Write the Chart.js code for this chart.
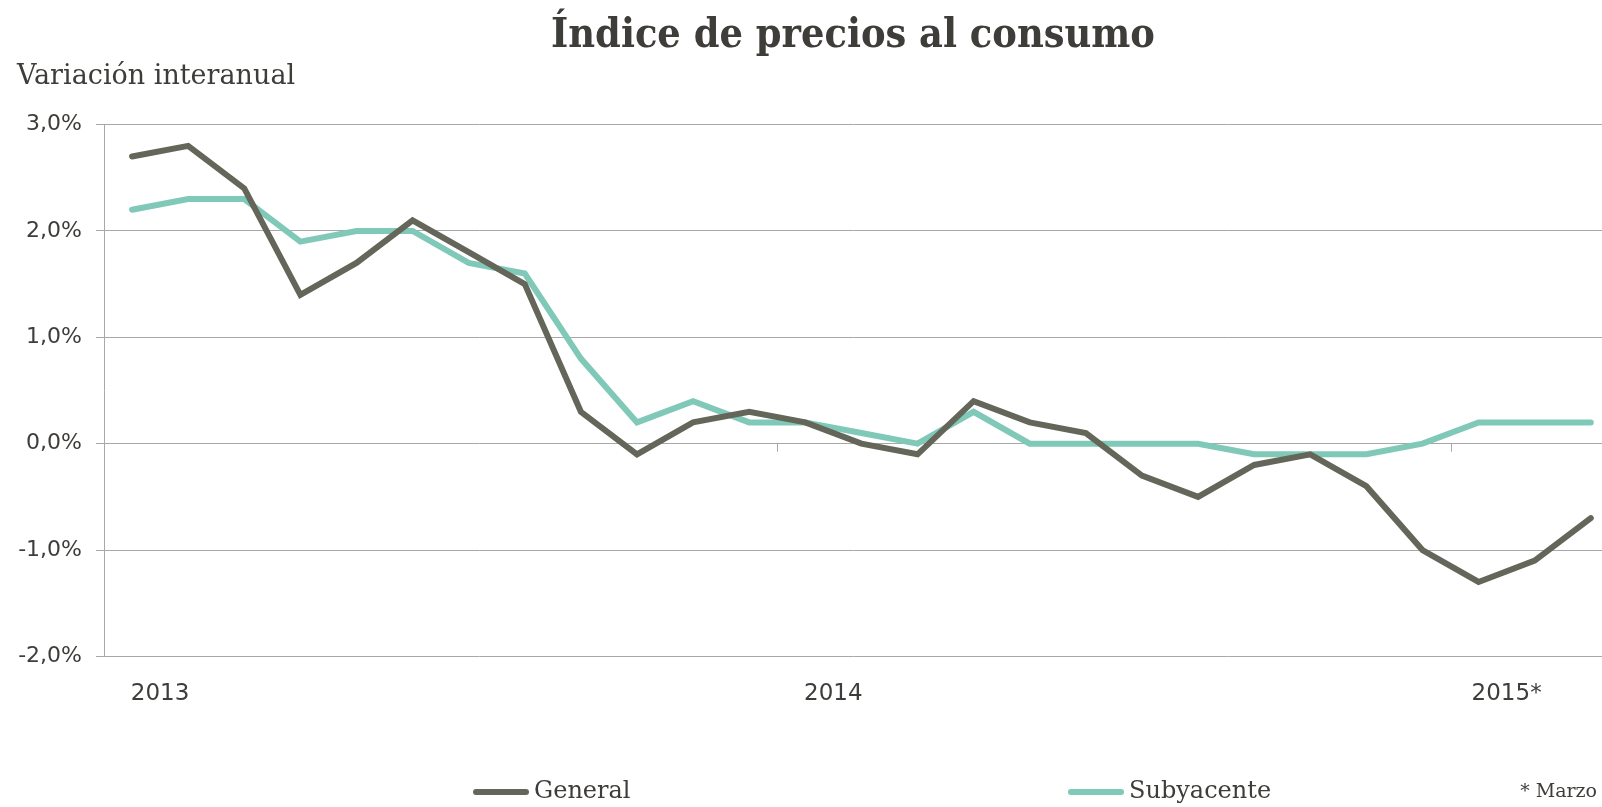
<!DOCTYPE html>
<html lang="es">
<head>
    <meta charset="UTF-8">
    <title>Índice de precios al consumo</title>
    <style>
        body {
            margin: 0;
            padding: 0;
            background-color: #fff;
        }
    </style>
</head>
<body>
    <canvas id="ipcChart" width="1602" height="807"></canvas>
    <script src="https://cdn.jsdelivr.net/npm/chart.js"></script>
    <script>
        // monthly year-on-year change, in %
        const general =    [2.7, 2.8, 2.4, 1.4, 1.7, 2.1, 1.8, 1.5, 0.3, -0.1, 0.2, 0.3, 0.2, 0.0,
                            -0.1, 0.4, 0.2, 0.1, -0.3, -0.5, -0.2, -0.1, -0.4, -1.0, -1.3, -1.1, -0.7];
        const subyacente = [2.2, 2.3, 2.3, 1.9, 2.0, 2.0, 1.7, 1.6, 0.8, 0.2, 0.4, 0.2, 0.2, 0.1,
                            0.0, 0.3, 0.0, 0.0, 0.0, 0.0, -0.1, -0.1, -0.1, 0.0, 0.2, 0.2, 0.2];
        const yearLabels = ['2013', '2014', '2015*'];
        const monthsPerYear = 12;

        const toPoints = arr => arr.map((v, i) => ({ x: i, y: v }));
        const textColor = '#3f3d3a';
        const gridColor = '#a8a8a8';
        const serif = '"DejaVu Serif"';

        const yearTicks = yearLabels.map((_, i) => i * monthsPerYear + 0.5);
        const yearBreaks = yearLabels.slice(1).map((_, i) => (i + 1) * monthsPerYear - 0.5);

        // tick marks on the zero line, legend spread out, footnote
        const extras = {
            id: 'extras',
            afterDatasetsDraw(chart) {
                const { ctx, scales: { x, y } } = chart;
                const y0 = y.getPixelForValue(0);
                ctx.save();
                ctx.strokeStyle = gridColor;
                ctx.lineWidth = 1;
                yearBreaks.forEach(v => {
                    const px = Math.round(x.getPixelForValue(v)) + 0.5;
                    ctx.beginPath();
                    ctx.moveTo(px, y0);
                    ctx.lineTo(px, y0 + 8);
                    ctx.stroke();
                });
                ctx.restore();
            },
            afterDraw(chart) {
                const ctx = chart.ctx;
                const legendY = 792;
                const legendX = [476, 1071];
                ctx.save();
                ctx.textBaseline = 'middle';
                ctx.fillStyle = textColor;
                ctx.font = '24px ' + serif;
                chart.data.datasets.forEach((ds, i) => {
                    ctx.strokeStyle = ds.borderColor;
                    ctx.lineWidth = ds.borderWidth;
                    ctx.lineCap = 'round';
                    ctx.beginPath();
                    ctx.moveTo(legendX[i], legendY);
                    ctx.lineTo(legendX[i] + 50, legendY);
                    ctx.stroke();
                    ctx.fillText(ds.label, legendX[i] + 58, legendY);
                });
                ctx.font = '19px ' + serif;
                ctx.textAlign = 'right';
                ctx.fillText('* Marzo', chart.width - 5, legendY);
                ctx.restore();
            }
        };

        const ctx = document.getElementById('ipcChart').getContext('2d');
        new Chart(ctx, {
            type: 'line',
            data: {
                datasets: [{
                    label: 'General',
                    data: toPoints(general),
                    borderColor: '#65665a',
                    backgroundColor: '#65665a',
                    borderWidth: 6,
                    borderCapStyle: 'round',
                    pointRadius: 0,
                    tension: 0
                }, {
                    label: 'Subyacente',
                    data: toPoints(subyacente),
                    borderColor: '#80c9b9',
                    backgroundColor: '#80c9b9',
                    borderWidth: 6,
                    borderCapStyle: 'round',
                    pointRadius: 0,
                    tension: 0
                }]
            },
            options: {
                responsive: false,
                animation: false,
                devicePixelRatio: 1,
                layout: { padding: { left: 17, right: 0, top: 0, bottom: 75 } },
                plugins: {
                    title: {
                        display: true,
                        fullSize: false,
                        text: 'Índice de precios al consumo',
                        color: textColor,
                        font: { family: '"DejaVu Serif Condensed", "DejaVu Serif"', weight: 'bold', size: 41 },
                        padding: { top: 12, bottom: 0 }
                    },
                    subtitle: {
                        display: true,
                        text: 'Variación interanual',
                        align: 'start',
                        color: textColor,
                        font: { family: serif, size: 27 },
                        padding: { top: 0, bottom: 31 }
                    },
                    legend: { display: false },
                    tooltip: { enabled: false }
                },
                scales: {
                    x: {
                        type: 'linear',
                        min: -0.5,
                        max: 26.2,
                        grid: { display: false, drawTicks: false },
                        border: { display: false },
                        afterBuildTicks: scale => {
                            scale.ticks = yearTicks.map(v => ({ value: v }));
                        },
                        ticks: {
                            autoSkip: false,
                            maxRotation: 0,
                            padding: 24,
                            color: textColor,
                            font: { family: 'DejaVu Sans', size: 23 },
                            callback: (v) => yearLabels[yearTicks.indexOf(v)]
                        }
                    },
                    y: {
                        min: -2,
                        max: 3,
                        afterFit: scale => { scale.width = 87; },
                        ticks: {
                            stepSize: 1,
                            padding: 14,
                            color: textColor,
                            font: { family: 'DejaVu Sans', size: 22 },
                            callback: v => v.toFixed(1).replace('.', ',') + '%'
                        },
                        grid: { color: gridColor, tickLength: 8 },
                        border: { display: true, color: gridColor }
                    }
                }
            },
            plugins: [extras]
        });
    </script>
</body>
</html>
